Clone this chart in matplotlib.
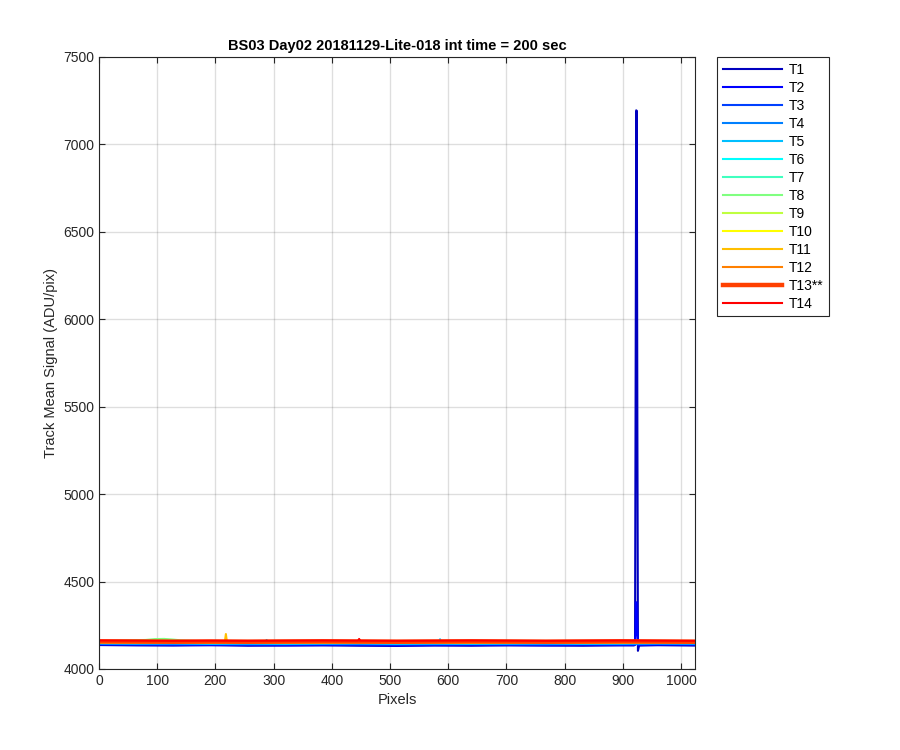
import numpy as np
import matplotlib.pyplot as plt

plt.rcParams['font.family'] = ['Liberation Sans', 'DejaVu Sans']

# track labels and MATLAB jet(16) colours (first 14)
track_names = ['T1', 'T2', 'T3', 'T4', 'T5', 'T6', 'T7',
               'T8', 'T9', 'T10', 'T11', 'T12', 'T13**', 'T14']
track_colors = [(0, 0, 0.75), (0, 0, 1), (0, 0.25, 1), (0, 0.5, 1),
                (0, 0.75, 1), (0, 1, 1), (0.25, 1, 0.75), (0.5, 1, 0.5),
                (0.75, 1, 0.25), (1, 1, 0), (1, 0.75, 0), (1, 0.5, 0),
                (1, 0.25, 0), (1, 0, 0)]

pix = [0, 64, 128, 192, 256, 320, 384, 448, 512, 576, 640, 704, 768, 832, 896, 960, 1024]

sig = {
    'T1':  [4137, 4135, 4134, 4136, 4133, 4134, 4135, 4133, 4132, 4134, 4133, 4135, 4134, 4133, 4135, 4136, 4134],
    'T2':  [4140, 4139, 4138, 4137, 4138, 4136, 4137, 4138, 4136, 4137, 4138, 4137, 4136, 4138, 4137, 4139, 4138],
    'T3':  [4143, 4142, 4141, 4142, 4140, 4141, 4142, 4141, 4140, 4141, 4142, 4141, 4140, 4142, 4141, 4143, 4142],
    'T4':  [4146, 4145, 4144, 4145, 4144, 4143, 4145, 4144, 4143, 4144, 4145, 4144, 4143, 4145, 4144, 4146, 4145],
    'T5':  [4150, 4149, 4150, 4148, 4149, 4148, 4149, 4150, 4148, 4149, 4148, 4149, 4150, 4148, 4149, 4150, 4149],
    'T6':  [4148, 4147, 4148, 4146, 4147, 4146, 4147, 4148, 4146, 4147, 4146, 4147, 4148, 4146, 4147, 4148, 4147],
    'T7':  [4153, 4152, 4153, 4151, 4152, 4151, 4152, 4153, 4151, 4152, 4151, 4152, 4153, 4151, 4152, 4153, 4152],
    'T8':  [4158, 4165, 4168, 4156, 4155, 4154, 4155, 4156, 4154, 4155, 4154, 4155, 4156, 4154, 4155, 4156, 4155],
    'T9':  [4152, 4151, 4152, 4150, 4151, 4150, 4151, 4152, 4150, 4151, 4150, 4151, 4152, 4150, 4151, 4152, 4151],
    'T10': [4154, 4153, 4154, 4152, 4153, 4152, 4153, 4154, 4152, 4153, 4152, 4153, 4154, 4152, 4153, 4154, 4153],
    'T11': [4151, 4150, 4151, 4149, 4150, 4149, 4150, 4151, 4149, 4150, 4149, 4150, 4151, 4149, 4150, 4151, 4150],
    'T12': [4157, 4156, 4157, 4155, 4156, 4155, 4156, 4157, 4155, 4156, 4155, 4156, 4157, 4155, 4156, 4157, 4156],
    'T13**': [4158, 4157, 4156, 4157, 4156, 4157, 4158, 4157, 4156, 4157, 4158, 4157, 4156, 4157, 4158, 4157, 4156],
    'T14': [4163, 4162, 4161, 4162, 4161, 4162, 4163, 4162, 4161, 4162, 4163, 4162, 4161, 4162, 4163, 4162, 4161],
}

# isolated features on top of the baseline
extra_pix = {
    'T1': [919, 921, 922, 923, 924, 925, 926, 928],
    'T2': [920, 922, 923, 924, 926],
    'T5': [286, 288, 290, 584, 586, 588],
    'T8': [80, 96, 112, 140],
    'T11': [216, 218, 220],
    'T14': [445, 447, 449],
}
extra_sig = {
    'T1': [4135, 4138, 5600, 7195, 7192, 5400, 4104, 4134],
    'T2': [4137, 4200, 4382, 4300, 4137],
    'T5': [4149, 4166, 4149, 4149, 4170, 4149],
    'T8': [4166, 4171, 4172, 4164],
    'T11': [4150, 4200, 4150],
    'T14': [4162, 4172, 4162],
}


def track_series(name):
    x = list(pix) + extra_pix.get(name, [])
    y = list(sig[name]) + extra_sig.get(name, [])
    order = np.argsort(x, kind='stable')
    return np.array(x)[order], np.array(y)[order]


fig = plt.figure(figsize=(9, 7.5), dpi=100)
ax = fig.add_axes([0.11, 0.108, 0.6622, 0.816])

for name, color in zip(track_names, track_colors):
    x, y = track_series(name)
    lw = 3.2 if name == 'T13**' else 1.5
    ax.plot(x, y, color=color, lw=lw, label=name)

ax.set_xlim(0, 1024)
ax.set_ylim(4000, 7500)
ax.set_xticks(np.arange(0, 1001, 100))
ax.set_yticks(np.arange(4000, 7501, 500))
ax.grid(True, color='0.15', alpha=0.15, lw=1)
ax.tick_params(direction='in', length=4, labelsize=10, colors='0.15',
               top=True, right=True)
for s in ax.spines.values():
    s.set_color('0.15')
    s.set_linewidth(0.8)

ax.set_xlabel('Pixels', fontsize=10.5, color='0.15')
ax.set_ylabel('Track Mean Signal (ADU/pix)', fontsize=10.5, color='0.15')
ax.set_title('BS03 Day02 20181129-Lite-018 int time = 200 sec',
             fontsize=10.5, fontweight='bold', pad=5)

leg = ax.legend(loc='upper left', bbox_to_anchor=(0.7967, 0.924),
                bbox_transform=fig.transFigure, borderaxespad=0,
                fontsize=10, handlelength=4.25, labelspacing=0.29,
                fancybox=False, framealpha=1, edgecolor='0.15',
                borderpad=0.4, handletextpad=0.5)
leg.get_frame().set_linewidth(0.8)

fig.savefig('out.png', dpi=100)
